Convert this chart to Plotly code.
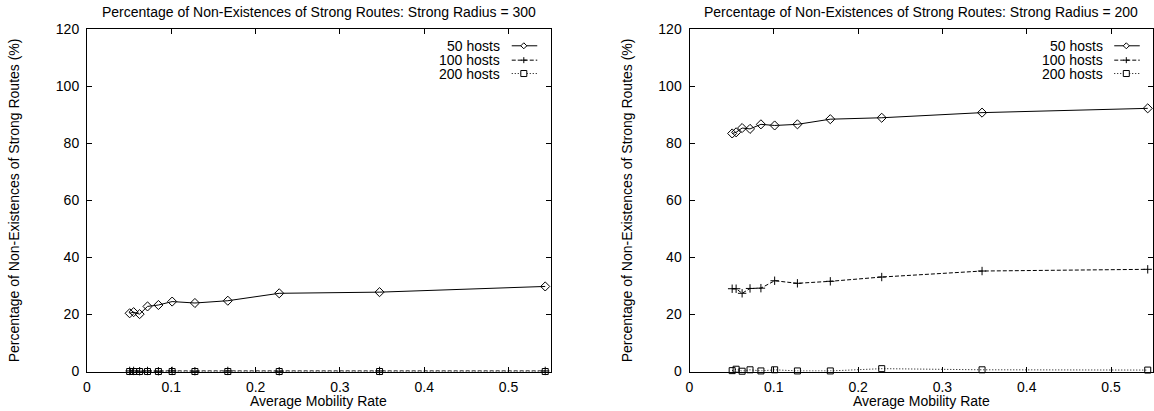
import plotly.graph_objects as go

# ---------------- data ----------------
mobility = [0.0506, 0.0553, 0.0624, 0.0718, 0.0847, 0.101, 0.128, 0.167, 0.228, 0.347, 0.5435]

r300_50 = [20.4, 20.8, 20.1, 22.8, 23.3, 24.5, 24.0, 24.8, 27.4, 27.8, 29.8]
r300_100 = [0.2, 0.2, 0.1, 0.2, 0.1, 0.2, 0.1, 0.2, 0.1, 0.2, 0.2]
r300_200 = [0.0, 0.0, 0.0, 0.0, 0.0, 0.0, 0.0, 0.0, 0.0, 0.0, 0.0]

r200_50 = [83.4, 83.8, 85.3, 85.0, 86.6, 86.2, 86.6, 88.4, 88.9, 90.7, 92.2]
r200_100 = [29.0, 29.0, 27.4, 29.1, 29.2, 31.8, 30.9, 31.6, 33.1, 35.2, 35.8]
r200_200 = [0.3, 0.8, 0.1, 0.6, 0.2, 0.6, 0.2, 0.2, 1.0, 0.6, 0.5]

series_names = ["50 hosts", "100 hosts", "200 hosts"]
titles = ["Percentage of Non-Existences of Strong Routes: Strong Radius = 300",
          "Percentage of Non-Existences of Strong Routes: Strong Radius = 200"]
x_title = "Average Mobility Rate"
y_title = "Percentage of Non-Existences of Strong Routes (%)"
x_ticks = [0, 0.1, 0.2, 0.3, 0.4, 0.5]
y_ticks = [0, 20, 40, 60, 80, 100, 120]
x_max = 0.55

# ---------------- style ----------------
FONT = "Liberation Sans, Arial, Helvetica, sans-serif"
FS = 14
W, H = 1154, 411
styles = [
    dict(dash="solid", symbol="diamond-open", size=7),
    dict(dash="4px,2px", symbol="cross-thin-open", size=6),
    dict(dash="1px,2px", symbol="square-open", size=6),
]

fig = go.Figure()

panels = [
    (("x", "y"), [r300_50, r300_100, r300_200]),
    (("x2", "y2"), [r200_50, r200_100, r200_200]),
]
for (xa, ya), data in panels:
    for name, vals, st in zip(series_names, data, styles):
        fig.add_trace(go.Scatter(
            x=mobility, y=vals, name=name, xaxis=xa, yaxis=ya,
            mode="lines+markers", showlegend=False, cliponaxis=False,
            line=dict(color="black", width=1, dash=st["dash"]),
            marker=dict(symbol=st["symbol"], size=st["size"], color="black",
                        line=dict(color="black", width=1)),
        ))

def fx(px):
    return px / W
def fy(py):
    return 1 - py / H

xdom = [(fx(87), fx(550.7)), (fx(689.5), fx(1153.2))]
ydom = (fy(371.5), fy(29))

axis_common = dict(
    showline=True, linecolor="black", linewidth=1, mirror="allticks",
    ticks="inside", ticklen=5, tickcolor="black", tickwidth=1,
    showgrid=False, zeroline=False, automargin=False,
    tickfont=dict(family=FONT, size=FS, color="black"),
)

for i, (xn, yn) in enumerate([("xaxis", "yaxis"), ("xaxis2", "yaxis2")]):
    xa = dict(axis_common, domain=list(xdom[i]), range=[0, x_max],
              tickvals=x_ticks, ticktext=[f"{v:g}" for v in x_ticks],
              ticklabelstandoff=3)
    ya = dict(axis_common, domain=list(ydom), range=[0, 120],
              tickvals=y_ticks, ticktext=[str(v) for v in y_ticks],
              ticklabelstandoff=4)
    if i == 1:
        xa["anchor"] = "y2"
        ya["anchor"] = "x2"
    fig.layout[xn] = xa
    fig.layout[yn] = ya

annotations = []
shapes = []
ytitle_x = [14, 627]
for i in range(2):
    x0, x1 = xdom[i]
    xc = (x0 + x1) / 2
    annotations.append(dict(text=titles[i], x=xc, y=fy(12), xref="paper", yref="paper",
                            showarrow=False, font=dict(family=FONT, size=FS, color="black"),
                            xanchor="center", yanchor="middle"))
    annotations.append(dict(text=x_title, x=xc, y=fy(401), xref="paper", yref="paper",
                            showarrow=False, font=dict(family=FONT, size=FS, color="black"),
                            xanchor="center", yanchor="middle"))
    annotations.append(dict(text=y_title, x=fx(ytitle_x[i]), y=(ydom[0] + ydom[1]) / 2,
                            xref="paper", yref="paper", textangle=-90,
                            showarrow=False, font=dict(family=FONT, size=FS, color="black"),
                            xanchor="center", yanchor="middle"))
    # gnuplot-style key: text right-aligned, sample on the right
    xr = "x domain" if i == 0 else "x2 domain"
    yr = "y domain" if i == 0 else "y2 domain"
    rows = [0.951, 0.909, 0.870]
    for name, st, yy in zip(series_names, styles, rows):
        annotations.append(dict(text=name, x=0.896, y=yy, xref=xr, yref=yr,
                                showarrow=False, xanchor="right", yanchor="middle",
                                font=dict(family=FONT, size=FS, color="black")))
        shapes.append(dict(type="line", xref=xr, yref=yr, x0=0.916, x1=0.971, y0=yy, y1=yy,
                           line=dict(color="black", width=1, dash=st["dash"])))
        xm = 0.942
        common = dict(type="path", xref=xr, yref=yr, xsizemode="pixel", ysizemode="pixel",
                      xanchor=xm, yanchor=yy)
        if st["symbol"].startswith("diamond"):
            shapes.append(dict(common, path="M -3 0 L 0 3 L 3 0 L 0 -3 Z",
                               fillcolor="white", line=dict(color="black", width=1)))
        elif st["symbol"].startswith("cross"):
            shapes.append(dict(common, path="M -3 0 L 3 0 M 0 -3 L 0 3",
                               line=dict(color="black", width=1)))
        else:
            shapes.append(dict(common, path="M -3 -3 L 3 -3 L 3 3 L -3 3 Z",
                               fillcolor="white", line=dict(color="black", width=1)))

fig.update_layout(
    width=W, height=H,
    margin=dict(l=0, r=0, t=0, b=0, autoexpand=False),
    paper_bgcolor="white", plot_bgcolor="white",
    annotations=annotations, shapes=shapes,
    showlegend=False, hovermode=False,
    font=dict(family=FONT, size=FS, color="black"),
)

fig.write_html(
    "out.html",
    config={"displayModeBar": False, "staticPlot": True},
    post_script="document.body.style.margin='0';document.body.style.overflow='hidden';",
)
